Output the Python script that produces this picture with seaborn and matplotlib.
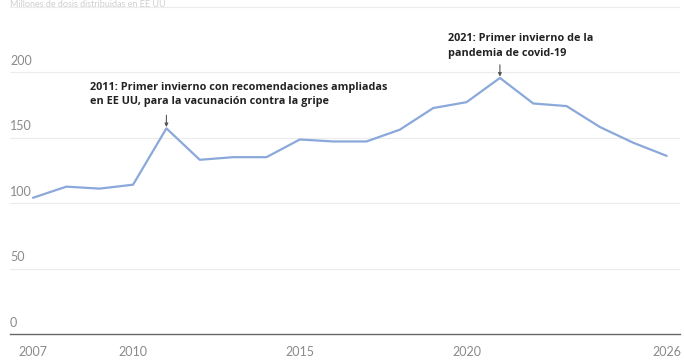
import numpy as np
import pandas as pd
import matplotlib
matplotlib.use("Agg")
import matplotlib.pyplot as plt
import seaborn as sns

# datos (millones de dosis)
years = list(range(2007, 2027))
doses = [104, 112.5, 111, 114, 157, 133, 135, 135, 148.5, 147,
         147, 156, 172.5, 177, 195.5, 176, 174, 158, 146, 136]
xticks = [2007, 2010, 2015, 2020, 2026]
yticks = [0, 50, 100, 150, 200]

note_2011 = "2011: Primer invierno con recomendaciones ampliadas\nen EE UU, para la vacunación contra la gripe"
note_2021 = "2021: Primer invierno de la\npandemia de covid-19"

sns.set_theme(style="white")
plt.rcParams['font.family'] = ['Lato', 'DejaVu Sans']

df = pd.DataFrame({"year": years, "doses": doses})

fig = plt.figure(figsize=(6.84, 3.62), dpi=100)
ax = fig.add_axes([10 / 684, 1 - 334 / 362, 670 / 684, 334 / 362])

sns.lineplot(data=df, x="year", y="doses", color="#8aa8da", linewidth=1.6, ax=ax)

ax.set_xlim(2006.31, 2026.4)
ax.set_ylim(0, 255)

# rejilla horizontal y etiquetas encima de cada línea
for v in yticks + [250]:
    if v > 0:
        ax.axhline(v, color="#ececec", linewidth=0.8, zorder=0)
for v in yticks:
    ax.text(0, v + 4, str(v), transform=ax.get_yaxis_transform(),
            ha="left", va="bottom", fontsize=9, color="#8a8a8a")
ax.set_yticks([])

ax.set_xticks(xticks)
ax.set_xticklabels([str(x) for x in xticks], fontsize=9, color="#8a8a8a")
ax.tick_params(axis="x", length=4, width=0.8, color="#777777", pad=5, direction="out")
ax.set_xlabel("")
ax.set_ylabel("")

for s in ["top", "right", "left"]:
    ax.spines[s].set_visible(False)
ax.spines["bottom"].set_color("#666666")
ax.spines["bottom"].set_linewidth(1.0)

# anotaciones
note_font = dict(family=['Open Sans', 'DejaVu Sans'], fontsize=7.8, fontweight="bold",
                 color="#222222", linespacing=1.45, ha="left", va="bottom")
arrow = dict(arrowstyle="-|>", color="#555555", lw=0.8, shrinkA=0, shrinkB=0,
             mutation_scale=5)

i11 = years.index(2011)
ax.text(2008.71, 173, note_2011, **note_font)
ax.annotate("", xy=(2011, doses[i11] + 1), xytext=(2011, doses[i11] + 10),
            arrowprops=arrow)

i21 = years.index(2021)
ax.text(2019.43, 210, note_2021, **note_font)
ax.annotate("", xy=(2021, doses[i21] + 1), xytext=(2021, doses[i21] + 10),
            arrowprops=arrow)

fig.text(10 / 684, 1, "Millones de dosis distribuidas en EE UU",
         ha="left", va="top", fontsize=6.5, color="#d0d0d0")

fig.savefig("out.png", dpi=100)
